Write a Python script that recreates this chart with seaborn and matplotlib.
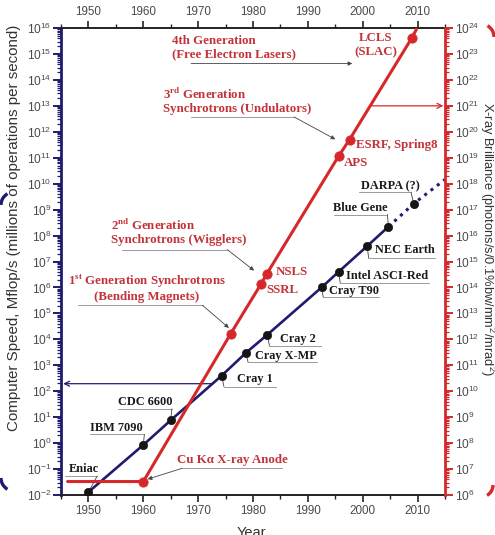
import numpy as np
import matplotlib
matplotlib.use("Agg")
import matplotlib.pyplot as plt
import matplotlib.ticker as mticker
import matplotlib.transforms as mtransforms
from matplotlib.patches import Arc
import seaborn as sns

# computer speed (Mflop/s), left axis
cpu_names = ["Eniac", "IBM 7090", "CDC 6600", "Cray 1", "Cray X-MP", "Cray 2",
             "Cray T90", "Intel ASCI-Red", "NEC Earth", "Blue Gene", "DARPA (?)"]
cpu_years = [1950, 1960, 1965, 1974.3, 1978.7, 1982.6, 1992.5, 1995.6, 2000.8, 2004.7, 2009.3]
cpu_speed = [0.013, 0.85, 7.6, 400, 3000, 1.5e4, 1.0e6, 4.0e6, 3.9e7, 2.2e8, 1.7e9]
cpu_proj_year = 2015
cpu_proj_speed = 1.45e10

# x-ray brilliance, right axis
xray_names = ["", "Cu Ka", "1st", "SSRL", "NSLS", "APS", "ESRF", "LCLS"]
xray_years = [1946.2, 1960, 1975.9, 1981.5, 1982.5, 1995.6, 1997.6, 2009]
xray_brill = [3.3e6, 3.3e6, 1.6e12, 1.4e14, 3.3e14, 1.15e19, 5.0e19, 4.3e23]
xray_end_year = 2009.8
xray_end_brill = 9.0e23

navy = "#1f1b6e"
red = "#d6282b"
red_txt = "#c2343a"
dark_txt = "#1a1a1a"
tick_txt = "#4a4a4a"

sns.set_style("ticks")
plt.rcParams["font.family"] = ["Liberation Sans", "DejaVu Sans"]

fig = plt.figure(figsize=(4.95, 5.35), dpi=100)
ax = fig.add_axes([61 / 495, 1 - 495 / 535, 384 / 495, 467 / 535])
ax.set_yscale("log")
ax2 = ax.twinx()
ax2.set_yscale("log")

# lines
sns.lineplot(x=cpu_years[:10], y=cpu_speed[:10], ax=ax, color=navy, lw=1.9,
             sort=False, legend=False)
sns.lineplot(x=cpu_years[9:] + [cpu_proj_year], y=cpu_speed[9:] + [cpu_proj_speed], ax=ax,
             color=navy, lw=2.2, linestyle=(0, (1, 1.6)), sort=False, legend=False)
sns.scatterplot(x=cpu_years, y=cpu_speed, ax=ax, color="#151515", s=36,
                edgecolor="#151515", zorder=5, legend=False)

sns.lineplot(x=xray_years + [xray_end_year], y=xray_brill + [xray_end_brill], ax=ax2,
             color=red, lw=2.2, sort=False, legend=False)
sns.scatterplot(x=xray_years[1:], y=xray_brill[1:], ax=ax2, color=red, s=45,
                edgecolor=red, zorder=5, legend=False)

ax.set_xlim(1945, 2015)
ax.set_ylim(1e-2, 1e16)
ax2.set_ylim(1e6, 1e24)

# spines and ticks
for a in (ax, ax2):
    a.set_xlabel("")
    a.set_ylabel("")
ax.spines["left"].set_color(navy)
ax.spines["left"].set_linewidth(2)
ax.spines["right"].set_visible(False)
for s in ("top", "bottom"):
    ax.spines[s].set_color("#222222")
    ax.spines[s].set_linewidth(1.4)
    ax.spines[s].set_visible(True)
for s in ("left", "top", "bottom"):
    ax2.spines[s].set_visible(False)
ax2.spines["right"].set_color(red)
ax2.spines["right"].set_linewidth(2)
ax2.spines["right"].set_visible(True)

fmt = mticker.FuncFormatter(lambda v, p: r"$\mathregular{10^{%d}}$" % round(np.log10(v)))
for a, col in ((ax, navy), (ax2, red)):
    a.yaxis.set_major_locator(mticker.LogLocator(base=10, numticks=40))
    a.yaxis.set_minor_locator(mticker.LogLocator(base=10, subs=np.arange(2, 10), numticks=40))
    a.yaxis.set_major_formatter(fmt)
    a.yaxis.set_minor_formatter(mticker.NullFormatter())
    a.tick_params(axis="y", which="major", direction="out", length=5.5, width=1.4,
                  color=col, labelsize=8.6, labelcolor=tick_txt, pad=1.5)
    a.tick_params(axis="y", which="minor", direction="out", length=3, width=0.9, color=col)
ax2.tick_params(axis="y", which="major", pad=2)

ax.set_xticks(np.arange(1950, 2011, 10))
ax.xaxis.set_minor_locator(mticker.MultipleLocator(5))
ax.tick_params(axis="x", which="both", top=True, labeltop=True, bottom=True,
               labelbottom=True, direction="out", color="#222222")
ax.tick_params(axis="x", which="major", length=5, width=1.2, labelsize=8.4,
               labelcolor=tick_txt, pad=2.5)
ax.tick_params(axis="x", which="minor", length=3, width=1)

# axis titles
fig.text(14 / 495, 1 - 228 / 535, "Computer Speed, Mflop/s (millions of operations per second)",
         rotation=90, ha="center", va="center", fontsize=10.9, color="#333333")
fig.text(487 / 495, 1 - 239 / 535,
         r"X-ray Brilliance (photons/s/0.1%bw/mm$\mathregular{^2}$/mrad$\mathregular{^2}$)",
         rotation=270, ha="center", va="center", fontsize=9.3, color="#333333")
fig.text(251 / 495, 1 - 526 / 535, "Year", ha="center", va="top", fontsize=10.5, color="#333333")

serif_k = dict(family=["Liberation Serif", "DejaVu Serif"], weight="bold", size=8.8)
serif_r = dict(family=["Liberation Serif", "DejaVu Serif"], weight="bold", size=9.3)
ul_col = "#9a9a9a"
ld_col = "#444444"


def uline(x0, x1, ylog):
    ax.plot([x0, x1], [10 ** ylog, 10 ** ylog], color=ul_col, lw=0.7, zorder=2)


def seg(p0, p1, arrow=False):
    if arrow:
        ax.annotate("", xy=(p1[0], 10 ** p1[1]), xytext=(p0[0], 10 ** p0[1]),
                    arrowprops=dict(arrowstyle="-|>", color=ld_col, lw=0.6,
                                    mutation_scale=6, shrinkA=0, shrinkB=0), zorder=2)
    else:
        ax.plot([p0[0], p1[0]], [10 ** p0[1], 10 ** p1[1]], color=ld_col, lw=0.6, zorder=2)


# computer labels: text left x, text y (log), underline x0, x1, y (log)
cpu_lab = [
    (1946.5, -1.0, 1945.7, 1951.6, -1.27),
    (1950.3, 0.575, 1950.2, 1960.2, 0.34),
    (1955.3, 1.58, 1955.3, 1965.2, 1.32),
    (1977.1, 2.47, 1974.7, 1984.2, 2.18),
    (1980.4, 3.34, 1979.1, 1991.6, 3.12),
    (1985.0, 4.02, 1983.0, 1992.4, 3.75),
    (1993.8, 5.85, 1992.8, 2002.9, 5.63),
    (1996.9, 6.43, 1995.9, 2012.0, 6.17),
    (2002.2, 7.43, 2001.1, 2013.1, 7.12),
    (1994.6, 9.07, 1994.7, 2004.5, 8.81),
    (1999.6, 9.90, 1999.3, 2008.8, 9.67),
]
for name, yr, sp, (tx, ty, u0, u1, uy) in zip(cpu_names, cpu_years, cpu_speed, cpu_lab):
    ax.text(tx, 10 ** ty, name, ha="left", va="center", color=dark_txt, zorder=4, **serif_k)
    uline(u0, u1, uy)
    near = u0 if abs(u0 - yr) < abs(u1 - yr) else u1
    seg((near, uy), (yr, np.log10(sp)))

# x-ray source labels (right axis values)
src_lab = [("LCLS\n(SLAC)", 2002.4, 23.34, "center"),
           ("ESRF, Spring8", 1998.7, 19.49, "left"),
           ("APS", 1996.5, 18.78, "left"),
           ("NSLS", 1984.1, 14.6, "left"),
           ("SSRL", 1982.5, 13.89, "left")]
for txt, tx, ty, ha in src_lab:
    ax2.text(tx, 10 ** ty, txt, ha=ha, va="center", color=red_txt, zorder=6,
             multialignment="center", linespacing=1.2, **serif_r)

# generation labels (left axis values)
ax.text(1965.2, 10 ** 15.24, "4th Generation\n(Free Electron Lasers)", ha="left", va="center",
        color=red_txt, linespacing=1.2, **serif_r)
seg((1968.7, 14.63), (1998.1, 14.63), arrow=True)

ax.text(1963.6, 10 ** 13.2, "3$^{\\mathregular{rd}}$ Generation\nSynchrotrons (Undulators)",
        ha="left", va="center", color=red_txt, linespacing=1.15, **serif_r)
uline(1968.7, 1987.5, 12.57)
seg((1987.5, 12.57), (1995.0, 11.71), arrow=True)

ax.text(1954.1, 10 ** 8.14, "2$^{\\mathregular{nd}}$ Generation\nSynchrotrons (Wigglers)",
        ha="left", va="center", color=red_txt, linespacing=1.15, **serif_r)
uline(1956.2, 1975.3, 7.46)
seg((1975.3, 7.46), (1980.2, 6.65), arrow=True)

ax.text(1960.6, 10 ** 5.98, "1$^{\\mathregular{st}}$ Generation Synchrotrons\n(Bending Magnets)",
        ha="center", va="center", color=red_txt, linespacing=1.15,
        multialignment="center", **serif_r)
uline(1948.1, 1970.8, 5.31)
seg((1970.8, 5.31), (1975.6, 4.44), arrow=True)

ax.text(1966.2, 10 ** -0.65, "Cu K\u03b1 X-ray Anode", ha="left", va="center",
        color=red_txt, **serif_r)
uline(1967.1, 1985.3, -0.97)
seg((1967.1, -0.97), (1960.8, -1.39), arrow=True)

# long arrows toward the axes, starting on the trend lines
cpu_arrow_log = 2.29
x_start = np.interp(cpu_arrow_log, np.log10(cpu_speed[2:4]), cpu_years[2:4])
ax.annotate("", xy=(1945.4, 10 ** cpu_arrow_log), xytext=(x_start, 10 ** cpu_arrow_log),
            arrowprops=dict(arrowstyle="->", color=navy, lw=0.9, mutation_scale=9,
                            shrinkA=0, shrinkB=0))
xr_arrow_log = 21.0
x_start = np.interp(xr_arrow_log, np.log10(xray_brill[6:8]), xray_years[6:8])
ax2.annotate("", xy=(2014.7, 10 ** xr_arrow_log), xytext=(x_start, 10 ** xr_arrow_log),
             arrowprops=dict(arrowstyle="->", color=red, lw=0.9, mutation_scale=9,
                             shrinkA=0, shrinkB=0))

# bracket fragments at the edges
ident = mtransforms.IdentityTransform()
for (cx, cy, r, t1, t2, col) in [(14, 330, 13, 120, 180, navy), (14, 57, 13, 180, 240, navy),
                                 (481, 498, 13, 0, 60, red), (481, 50, 12, 300, 360, red)]:
    fig.add_artist(Arc((cx, cy), 2 * r, 2 * r, theta1=t1, theta2=t2, color=col,
                       lw=2.4, transform=ident))

fig.savefig("out.png", dpi=100)
